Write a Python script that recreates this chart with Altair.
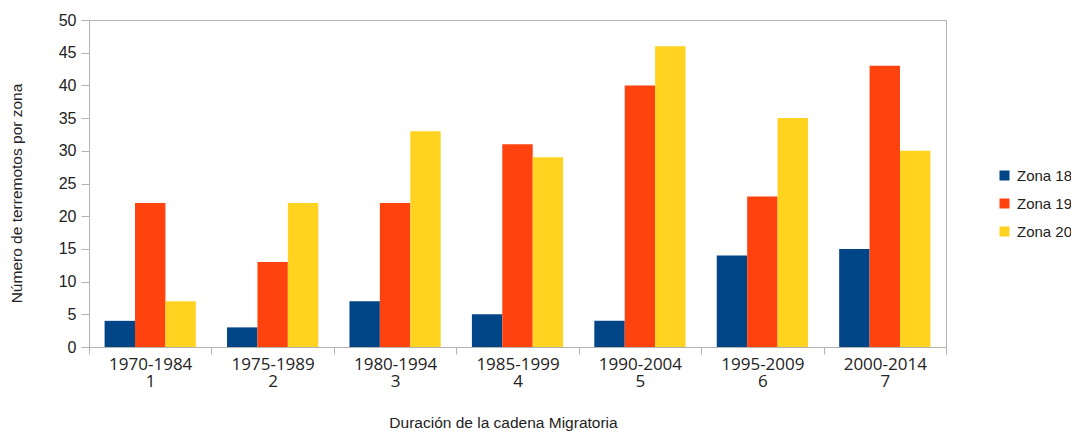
import altair as alt
import pandas as pd

periods = ["1970-1984", "1975-1989", "1980-1994", "1985-1999", "1990-2004", "1995-2009", "2000-2014"]
indices = ["1", "2", "3", "4", "5", "6", "7"]
series = ["Zona 18", "Zona 19", "Zona 20"]
zona18 = [4, 3, 7, 5, 4, 14, 15]
zona19 = [22, 13, 22, 31, 40, 23, 43]
zona20 = [7, 22, 33, 29, 46, 35, 30]
colors = ["#004586", "#ff420e", "#ffd320"]
y_ticks = [0, 5, 10, 15, 20, 25, 30, 35, 40, 45, 50]

cats = [p + "|" + i for p, i in zip(periods, indices)]
rows = []
for name, vals in zip(series, [zona18, zona19, zona20]):
    for c, v in zip(cats, vals):
        rows.append({"cat": c, "serie": name, "valor": v})
df = pd.DataFrame(rows)

chart = alt.Chart(df).mark_bar().encode(
    x=alt.X("cat:N", sort=cats,
            scale=alt.Scale(paddingInner=0, paddingOuter=0),
            axis=alt.Axis(title="Duración de la cadena Migratoria",
                          labelExpr="split(datum.label, '|')",
                          labelAngle=0, labelFont="Open Sans", labelFontSize=17,
                          labelLineHeight=17, labelBaseline="top", labelPadding=2,
                          labelColor="#222222",
                          tickBand="extent", tickSize=7, tickColor="#b3b3b3",
                          domainColor="#b3b3b3",
                          titleFont="Liberation Sans", titleFontSize=15.5,
                          titleFontWeight="normal", titleColor="#222222",
                          titleX=414, titleY=80, titleBaseline="alphabetic",
                          titleAlign="center")),
    xOffset=alt.XOffset("serie:N", sort=series,
                        scale=alt.Scale(paddingInner=0, paddingOuter=0.513)),
    y=alt.Y("valor:Q", scale=alt.Scale(domain=[0, 50], nice=False),
            axis=alt.Axis(title="Número de terremotos por zona", values=y_ticks,
                          grid=False, tickSize=8, tickColor="#b3b3b3",
                          domainColor="#b3b3b3", labelPadding=5,
                          labelFont="Liberation Sans", labelFontSize=16,
                          labelColor="#222222",
                          titleFont="Liberation Sans", titleFontSize=15.5,
                          titleFontWeight="normal", titleColor="#222222",
                          titleAngle=270, titleX=-68, titleY=173,
                          titleBaseline="alphabetic", titleAlign="center")),
    color=alt.Color("serie:N", sort=series,
                    scale=alt.Scale(domain=series, range=colors),
                    legend=alt.Legend(title=None, orient="none", legendX=908, legendY=148,
                                      symbolType="square", symbolSize=100,
                                      symbolStrokeWidth=0,
                                      labelFont="Liberation Sans", labelFontSize=15,
                                      labelColor="#222222", labelOffset=5,
                                      labelLimit=200,
                                      rowPadding=12, padding=0)),
).properties(
    width=857, height=327,
    autosize=alt.AutoSizeParams(type="none"),
    padding={"left": 81, "top": 12, "right": 125, "bottom": 84},
).configure_view(
    stroke="#b3b3b3", strokeWidth=1
)

chart.save("out.html", embed_options={"renderer": "svg", "actions": False})
